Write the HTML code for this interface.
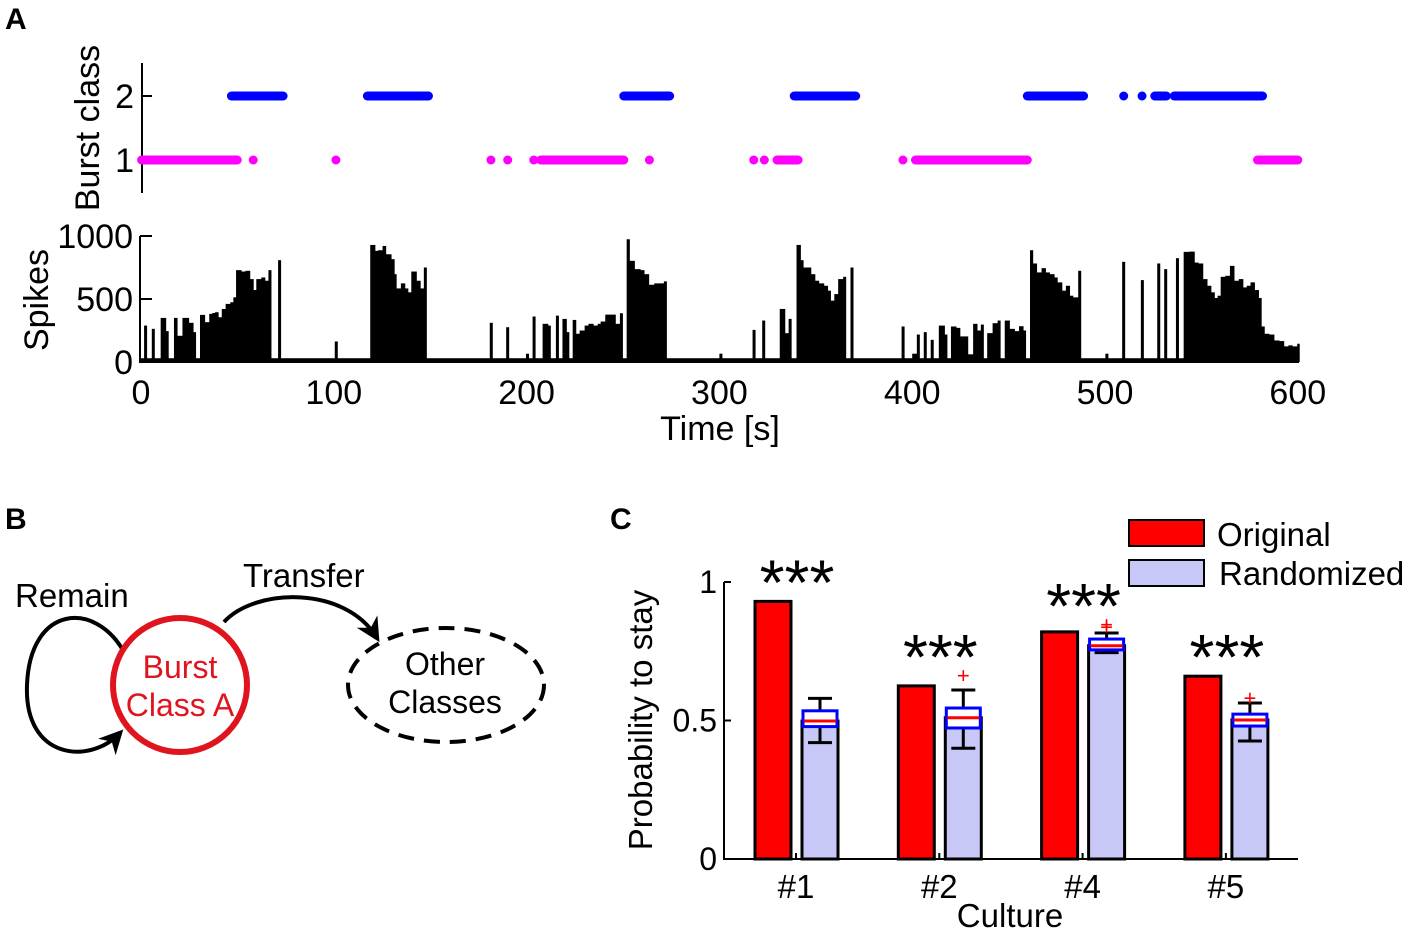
<!DOCTYPE html>
<html><head><meta charset="utf-8"><style>
html,body{margin:0;padding:0;background:#fff;}
svg{display:block;font-family:"Liberation Sans",Arial,sans-serif;}
</style></head><body>
<svg id="fig" width="1418" height="933" viewBox="0 0 1418 933">
  <text x="5" y="29" font-size="30" font-weight="bold">A</text>
  <text x="5" y="529" font-size="30" font-weight="bold">B</text>
  <text x="610" y="529" font-size="30" font-weight="bold">C</text>
  <g id="panelA"></g>
  <g id="panelB">
    <defs>
      <marker id="ah" viewBox="0 0 10 10" refX="8" refY="5" markerWidth="6" markerHeight="6" orient="auto-start-reverse">
        <path d="M0,0 L10,5 L0,10 L3,5 z" fill="#000"/>
      </marker>
    </defs>
    <text x="15" y="607" font-size="33">Remain</text>
    <text x="243" y="587" font-size="33">Transfer</text>
    <path d="M124,652 C95,600 30,605 27,685 C24,760 90,765 120,733" fill="none" stroke="#000" stroke-width="4" marker-end="url(#ah)"/>
    <path d="M224,622 C255,588 345,585 377,638" fill="none" stroke="#000" stroke-width="4" marker-end="url(#ah)"/>
    <circle cx="180" cy="685" r="67" fill="none" stroke="#e0141e" stroke-width="6"/>
    <text x="180" y="678" font-size="32" fill="#e0141e" text-anchor="middle">Burst</text>
    <text x="180" y="716" font-size="32" fill="#e0141e" text-anchor="middle">Class A</text>
    <ellipse cx="446" cy="685" rx="98" ry="57" fill="none" stroke="#000" stroke-width="4" stroke-dasharray="16,10"/>
    <text x="445" y="675" font-size="32" text-anchor="middle">Other</text>
    <text x="445" y="713" font-size="32" text-anchor="middle">Classes</text>
  </g>
  <g id="panelC"></g>
</svg>
<script>
// ---------- Panel A data ----------
const spikeTimes = [1.6,5.6,10.2,12.8,17.1,18.7,21.5,24.7,27.0,30.6,33.0,35.4,37.0,38.4,40.0,41.9,43.9,46.3,47.9,49.3,51.9,54.2,56.4,58.2,59.8,62.4,64.2,66.1,71.1,90.0,100.5,
118.9,121.3,122.9,125.3,126.9,129.7,131.3,132.3,134.8,136.8,138.4,140.2,142.8,144.8,146.7,
180.9,189.4,199.7,203.1,208.3,211.0,215.2,218.6,220.6,223.9,225.5,227.5,230.1,232.1,234.5,236.9,238.4,240.8,243.4,246.0,248.4,
251.9,253.3,255.9,258.9,260.9,263.3,266.2,269.2,271.2,300.0,
317.2,322.2,331.3,333.9,335.9,340.0,342.0,343.4,345.4,347.4,349.5,351.5,354.1,356.1,357.6,359.6,361.6,364.2,368.0,
394.5,400.0,402.4,406.0,409.6,413.8,416.7,420.1,422.7,424.7,426.8,428.8,431.6,433.6,435.6,438.9,441.7,444.3,448.0,450.4,453.0,455.4,457.5,
461.1,462.5,464.5,467.1,469.1,471.2,473.6,475.2,477.6,479.7,481.6,483.3,486.1,500.2,508.9,518.6,527.1,530.7,536.8,540.8,
543.8,546.3,548.3,550.7,552.9,554.9,556.7,558.4,560.0,562.4,564.8,566.9,569.4,571.5,573.5,575.5,577.5,579.6,581.0,582.6,585.0,587.6,590.2,592.7,595.1,597.1,599.7];
const spikeValues = [289,263,350,245,350,208,350,311,237,374,316,382,389,395,355,421,461,474,513,729,718,724,658,571,658,671,645,729,808,26,163,
929,882,887,921,855,816,697,584,624,584,553,718,645,584,750,
311,276,66,361,303,289,368,342,237,334,224,250,289,303,289,303,321,376,376,303,387,
974,803,737,729,697,613,624,624,640,66,
255,329,421,229,342,929,808,750,750,697,645,624,605,566,487,539,658,676,750,
282,66,218,237,176,289,218,282,271,203,203,61,303,250,297,229,308,329,329,263,245,284,250,
887,782,711,745,711,697,671,632,566,605,526,513,724,66,795,650,782,737,824,874,
876,789,782,658,605,553,508,526,676,684,763,645,658,592,605,632,571,508,282,224,218,171,166,124,132,124,145];
const class1Start = [0.3,58.2,101.1,181.5,190.2,203.7,207.3,263.7,317.8,323.3,329.9,395.2,401.7,579.1];
const class1End   = [49.9,58.2,101.1,181.5,190.2,203.7,250.4,263.7,317.8,323.3,340.8,395.2,459.7,600];
const class2Start = [46.9,117.4,250.4,338.8,459.7,509.7,519.2,525.8,535.9];
const class2End   = [73.7,149.1,274.2,370.7,488.9,509.7,519.2,531.8,581.7];
const timeTicks = [0,100,200,300,400,500,600];
const spikeTicks = [0,500,1000];
const classTicks = [1,2];

// ---------- Panel C data ----------
const cultures = ["#1","#2","#4","#5"];
const originalProb = [0.93,0.625,0.82,0.66];
const randMedian = [0.498,0.51,0.77,0.502];
const randQ1 = [0.478,0.473,0.755,0.48];
const randQ3 = [0.535,0.545,0.794,0.523];
const randWhiskLo = [0.42,0.40,0.745,0.426];
const randWhiskHi = [0.58,0.61,0.816,0.563];
const randOutliers = [[],[0.66],[0.845,0.835],[0.58]];
const probTicks = [0,0.5,1];
const probTickLabels = ["0","0.5","1"];

const NS = "http://www.w3.org/2000/svg";
function mk(tag, attrs, parent, text){
  const e = document.createElementNS(NS, tag);
  for (const k in attrs) e.setAttribute(k, attrs[k]);
  if (text !== undefined) e.textContent = text;
  parent.appendChild(e);
  return e;
}

// ---------- Panel A ----------
const A = document.getElementById('panelA');
const xT = t => 141 + t * 1.928;
const ySp = v => 362 - v * 0.126;
const yCl = c => 160 - (c - 1) * 64;

let e = mk('line', {x1:142, y1:63, x2:142, y2:193, stroke:'#000','stroke-width':2}, A);


classTicks.forEach(c => {
  let tk = mk('line', {x1:142, y1:yCl(c), x2:152, y2:yCl(c), stroke:'#000','stroke-width':2}, A);
  
  
  let lb = mk('text', {x:134, y:yCl(c)+12, 'font-size':34, 'text-anchor':'end'}, A, String(c));
  
  
});
e = mk('text', {x:0, y:0, 'font-size':34, 'text-anchor':'middle', transform:'translate(99,128) rotate(-90)'}, A, 'Burst class');



function drawClass(starts, ends, c, color, nm){
  starts.forEach((s, i) => {
    let seg = mk('line', {x1:xT(s), y1:yCl(c), x2:xT(ends[i]), y2:yCl(c), stroke:color, 'stroke-width':9, 'stroke-linecap':'round'}, A);
    
    
  });
}
drawClass(class1Start, class1End, 1, '#ff00ff', 'class-1-segment');
drawClass(class2Start, class2End, 2, '#0000ff', 'class-2-segment');

e = mk('rect', {x:xT(0), y:ySp(30), width:xT(600)-xT(0), height:ySp(0)-ySp(30), fill:'#000'}, A);


spikeTimes.forEach((t, i) => {
  const next = i < spikeTimes.length - 1 ? spikeTimes[i+1] : 600;
  let w = (next - t) < 3.2 ? (next - t) : 1.3;
  const x0 = xT(t), x1 = xT(t + w);
  let b = mk('rect', {x:x0, y:ySp(spikeValues[i]), width:Math.max(2.5, x1 - x0 + 0.5), height:ySp(0)-ySp(spikeValues[i]), fill:'#000'}, A);
  
  
});
e = mk('line', {x1:140, y1:236, x2:140, y2:363, stroke:'#000','stroke-width':2}, A);


e = mk('line', {x1:140, y1:362, x2:1299, y2:362, stroke:'#000','stroke-width':2}, A);


spikeTicks.forEach(v => {
  let tk = mk('line', {x1:140, y1:ySp(v), x2:152, y2:ySp(v), stroke:'#000','stroke-width':2}, A);
  
  
  let lb = mk('text', {x:133, y:ySp(v)+12, 'font-size':34, 'text-anchor':'end'}, A, String(v));
  
  
});
timeTicks.forEach(t => {
  let lb = mk('text', {x:xT(t), y:404, 'font-size':34, 'text-anchor':'middle'}, A, String(t));
  
  
});
e = mk('text', {x:0, y:0, 'font-size':34, 'text-anchor':'middle', transform:'translate(48,300) rotate(-90)'}, A, 'Spikes');


e = mk('text', {x:720, y:440, 'font-size':34, 'text-anchor':'middle'}, A, 'Time [s]');



// ---------- Panel C ----------
const C = document.getElementById('panelC');
const yP = v => 859 - v * 277;
const cx = i => 796 + i * 143.3;

cultures.forEach((c, i) => {
  const ctr = cx(i);
  let r = mk('rect', {x:ctr-41, y:yP(originalProb[i]), width:36, height:yP(0)-yP(originalProb[i]), fill:'#ff0000', stroke:'#000', 'stroke-width':3}, C);
  
  
  let b = mk('rect', {x:ctr+6, y:yP(randMedian[i]), width:36, height:yP(0)-yP(randMedian[i]), fill:'#c8c8f8', stroke:'#000', 'stroke-width':3}, C);
  
  
  const bx = ctr + 24;
  let w1 = mk('line', {x1:bx, y1:yP(randQ3[i]), x2:bx, y2:yP(randWhiskHi[i]), stroke:'#000','stroke-width':3}, C);
  
  
  let w2 = mk('line', {x1:bx-12, y1:yP(randWhiskHi[i]), x2:bx+12, y2:yP(randWhiskHi[i]), stroke:'#000','stroke-width':3}, C);
  
  
  let w3 = mk('line', {x1:bx, y1:yP(randQ1[i]), x2:bx, y2:yP(randWhiskLo[i]), stroke:'#000','stroke-width':3}, C);
  
  
  let w4 = mk('line', {x1:bx-12, y1:yP(randWhiskLo[i]), x2:bx+12, y2:yP(randWhiskLo[i]), stroke:'#000','stroke-width':3}, C);
  
  
  let bxr = mk('rect', {x:ctr+7, y:yP(randQ3[i]), width:34, height:yP(randQ1[i])-yP(randQ3[i]), fill:'#fff', stroke:'#0000ff', 'stroke-width':3}, C);
  
  
  let md = mk('line', {x1:ctr+8, y1:yP(randMedian[i]), x2:ctr+40, y2:yP(randMedian[i]), stroke:'#ff0000','stroke-width':3}, C);
  
  
  randOutliers[i].forEach(o => {
    let ol = mk('text', {x:bx, y:yP(o)+7, 'font-size':22, fill:'#ff0000', 'text-anchor':'middle'}, C, '+');
    
    
  });
  const starTop = Math.max(originalProb[i], randWhiskHi[i], ...randOutliers[i]);
  let st = mk('text', {x:ctr+1, y:yP(starTop)+3, 'font-size':64, 'text-anchor':'middle'}, C, '***');
  
  
  let tk = mk('line', {x1:ctr, y1:859, x2:ctr, y2:853, stroke:'#000','stroke-width':2}, C);
  
  
  let lb = mk('text', {x:ctr, y:898, 'font-size':33, 'text-anchor':'middle'}, C, c);
  
  
});
e = mk('line', {x1:724, y1:582, x2:724, y2:860, stroke:'#000','stroke-width':2}, C);


e = mk('line', {x1:723, y1:859, x2:1298, y2:859, stroke:'#000','stroke-width':2}, C);


probTicks.forEach((v, i) => {
  let tk = mk('line', {x1:724, y1:yP(v), x2:731, y2:yP(v), stroke:'#000','stroke-width':2}, C);
  
  
  let lb = mk('text', {x:717, y:yP(v)+11, 'font-size':32, 'text-anchor':'end'}, C, probTickLabels[i]);
  
  
});
e = mk('text', {x:0, y:0, 'font-size':33, 'text-anchor':'middle', transform:'translate(652,720) rotate(-90)'}, C, 'Probability to stay');


e = mk('text', {x:1010, y:927, 'font-size':33, 'text-anchor':'middle'}, C, 'Culture');


e = mk('rect', {x:1129, y:520, width:75, height:26, fill:'#ff0000', stroke:'#000','stroke-width':2}, C);


e = mk('text', {x:1217, y:546, 'font-size':33}, C, 'Original');


e = mk('rect', {x:1129, y:560, width:75, height:26, fill:'#c8c8f8', stroke:'#000','stroke-width':2}, C);


e = mk('text', {x:1219, y:585, 'font-size':33}, C, 'Randomized');


</script>
</body></html>
